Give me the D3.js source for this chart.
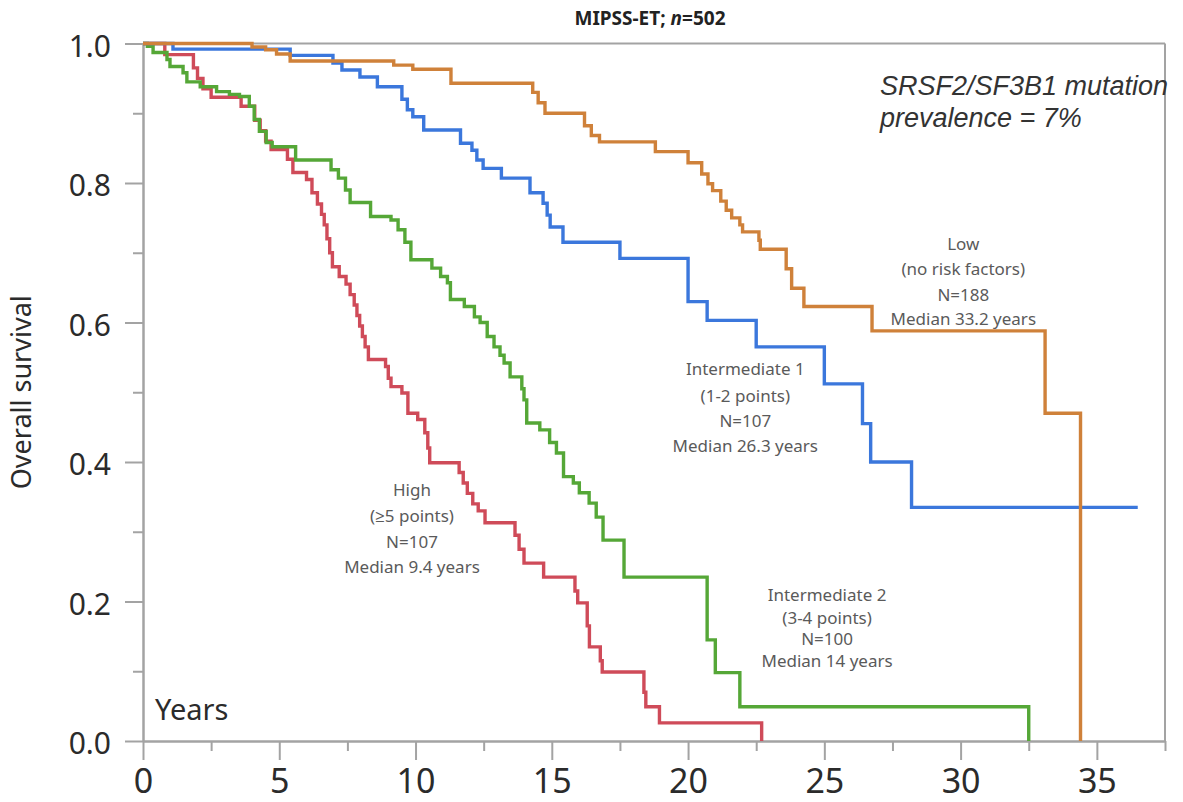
<!DOCTYPE html>
<meta charset="utf-8">
<style>
    body { margin: 0; background: #fff; }
    svg { display: block; font-family: "Noto Sans", "Open Sans", sans-serif; }
    .eixo path, .eixo line { stroke: #a3a3a3; stroke-width: 2px; }
    .eixo text { fill: #2b2b2b; }
    .rotulo { fill: #5a5a5a; font-size: 17px; text-anchor: middle; }
</style>
<script src="https://cdn.jsdelivr.net/npm/d3@7"></script>
<svg width="1183" height="802"></svg>
<script>
    // tempos (anos) e sobrevida após cada passo
    var lowCurve = [[0, 1], [4.0, 0.995], [4.5, 0.991], [4.9, 0.985], [5.4, 0.975], [9.2, 0.969], [9.9, 0.963],
        [11.3, 0.943], [14.3, 0.93], [14.5, 0.915], [14.75, 0.9], [16.2, 0.882], [16.45, 0.868], [16.75, 0.859],
        [18.8, 0.845], [20.0, 0.829], [20.5, 0.813], [20.73, 0.799], [20.9, 0.789], [21.2, 0.774], [21.4, 0.761],
        [21.6, 0.75], [21.9, 0.74], [22.0, 0.73], [22.6, 0.718], [22.65, 0.705], [23.6, 0.677], [23.8, 0.649],
        [24.25, 0.623], [26.75, 0.588], [33.1, 0.47], [34.4, 0]];

    var int1Curve = [[0, 1], [1.1, 0.992], [5.4, 0.983], [6.97, 0.972], [7.3, 0.962], [7.96, 0.952], [8.6, 0.938],
        [9.5, 0.92], [9.7, 0.905], [9.9, 0.895], [10.3, 0.876], [11.65, 0.857], [12.07, 0.847], [12.25, 0.833],
        [12.48, 0.821], [13.15, 0.807], [14.2, 0.786], [14.68, 0.771], [14.83, 0.754], [14.94, 0.737],
        [15.41, 0.715], [17.5, 0.692], [20.0, 0.63], [20.7, 0.603], [22.5, 0.565], [25.0, 0.512], [26.4, 0.455],
        [26.7, 0.4], [28.2, 0.335], [36.5, 0.335]];

    var int2Curve = [[0, 1], [0.16, 0.996], [0.37, 0.987], [0.88, 0.977], [0.99, 0.967], [1.47, 0.958], [1.61, 0.945],
        [2.1, 0.938], [2.7, 0.931], [3.17, 0.927], [3.54, 0.924], [3.9, 0.91], [4.08, 0.891], [4.27, 0.874],
        [4.52, 0.858], [4.74, 0.852], [5.6, 0.833], [6.9, 0.819], [7.17, 0.807], [7.43, 0.79], [7.6, 0.772],
        [8.35, 0.752], [9.1, 0.747], [9.36, 0.733], [9.61, 0.715], [9.83, 0.69], [10.6, 0.678], [10.92, 0.666],
        [11.17, 0.657], [11.28, 0.633], [11.79, 0.623], [12.16, 0.608], [12.37, 0.6], [12.63, 0.58], [12.88, 0.565],
        [13.1, 0.553], [13.25, 0.542], [13.47, 0.522], [13.9, 0.505], [13.98, 0.489], [14.08, 0.456], [14.56, 0.446],
        [14.92, 0.428], [15.17, 0.413], [15.43, 0.379], [15.79, 0.37], [16.01, 0.356], [16.37, 0.341], [16.63, 0.321],
        [16.88, 0.288], [17.65, 0.235], [20.7, 0.145], [21.0, 0.098], [21.9, 0.049], [32.5, 0]];

    var highCurve = [[0, 1], [0.8, 0.984], [1.85, 0.965], [2.0, 0.95], [2.2, 0.935], [2.5, 0.923], [3.6, 0.91],
        [4.1, 0.89], [4.3, 0.875], [4.5, 0.86], [4.7, 0.848], [5.3, 0.834], [5.5, 0.815], [6.0, 0.805], [6.2, 0.786],
        [6.4, 0.77], [6.55, 0.755], [6.65, 0.74], [6.75, 0.72], [6.85, 0.7], [6.95, 0.68], [7.2, 0.666], [7.45, 0.655],
        [7.6, 0.64], [7.75, 0.625], [7.85, 0.61], [7.95, 0.595], [8.05, 0.58], [8.15, 0.565], [8.27, 0.547],
        [8.9, 0.537], [9.0, 0.52], [9.1, 0.508], [9.5, 0.499], [9.72, 0.47], [10.08, 0.461], [10.34, 0.442],
        [10.45, 0.42], [10.52, 0.399], [11.6, 0.385], [11.75, 0.37], [11.9, 0.355], [12.1, 0.34], [12.3, 0.33],
        [12.55, 0.313], [13.65, 0.295], [13.8, 0.275], [13.98, 0.255], [14.7, 0.235], [15.85, 0.215], [15.95, 0.198],
        [16.3, 0.165], [16.38, 0.135], [16.78, 0.115], [16.85, 0.099], [18.38, 0.07], [18.45, 0.049], [18.95, 0.026],
        [22.7, 0]];

    var xTicks = [0, 5, 10, 15, 20, 25, 30, 35];
    var xMinor = [2.5, 7.5, 12.5, 17.5, 22.5, 27.5, 32.5, 37.5];
    var yTicks = [0, 0.2, 0.4, 0.6, 0.8, 1.0];
    var yMinor = [0.1, 0.3, 0.5, 0.7, 0.9];

    var grupos = [
        { nome: "High", curva: highCurve, cor: "#cf4b59", texto: ["High", "(\u22655 points)", "N=107", "Median 9.4 years"], tx: 9.87, ty: [0.36, 0.322, 0.285, 0.249] },
        { nome: "Intermediate 2", curva: int2Curve, cor: "#55a737", texto: ["Intermediate 2", "(3-4 points)", "N=100", "Median 14 years"], tx: 25.1, ty: [0.209, 0.177, 0.146, 0.114] },
        { nome: "Intermediate 1", curva: int1Curve, cor: "#3b77dc", texto: ["Intermediate 1", "(1-2 points)", "N=107", "Median 26.3 years"], tx: 22.1, ty: [0.533, 0.495, 0.459, 0.423] },
        { nome: "Low", curva: lowCurve, cor: "#cf813a", texto: ["Low", "(no risk factors)", "N=188", "Median 33.2 years"], tx: 30.1, ty: [0.712, 0.676, 0.64, 0.605] }
    ];

    var svg = d3.select("svg");

    var x = d3.scaleLinear().domain([0, 37.5]).range([143, 1165]);
    var y = d3.scaleLinear().domain([0, 1]).range([741, 43.5]);

    // moldura
    svg.append("line").attr("x1", x(0)).attr("x2", x(37.5)).attr("y1", y(1)).attr("y2", y(1))
        .style("stroke", "#a3a3a3").style("stroke-width", 2);
    svg.append("line").attr("x1", x(37.5)).attr("x2", x(37.5)).attr("y1", y(1)).attr("y2", y(0))
        .style("stroke", "#a3a3a3").style("stroke-width", 2);

    svg.append("g").attr("class", "eixo")
        .attr("transform", "translate(0," + y(0) + ")")
        .call(d3.axisBottom(x).tickValues(xMinor).tickSize(10).tickFormat("").tickSizeOuter(0));
    svg.append("g").attr("class", "eixo")
        .attr("transform", "translate(0," + y(0) + ")")
        .call(d3.axisBottom(x).tickValues(xTicks).tickSize(19).tickPadding(9).tickSizeOuter(0))
        .attr("font-family", null)
        .selectAll("text").style("font-size", "34px");

    svg.append("g").attr("class", "eixo")
        .attr("transform", "translate(" + x(0) + ",0)")
        .call(d3.axisLeft(y).tickValues(yMinor).tickSize(10).tickFormat("").tickSizeOuter(0));
    svg.append("g").attr("class", "eixo")
        .attr("transform", "translate(" + x(0) + ",0)")
        .call(d3.axisLeft(y).tickValues(yTicks).tickSize(18).tickPadding(14).tickSizeOuter(0).tickFormat(d3.format(".1f")))
        .attr("font-family", null)
        .selectAll("text").style("font-size", "30px").attr("dy", "0.42em");

    var linha = d3.line()
        .x(function (d) { return x(d[0]); })
        .y(function (d) { return y(d[1]); })
        .curve(d3.curveStepAfter);

    svg.append("g").selectAll("path")
        .data(grupos)
        .enter().append("path")
        .attr("d", function (d) { return linha(d.curva); })
        .attr("fill", "none")
        .attr("stroke", function (d) { return d.cor; })
        .attr("stroke-width", 3.4);

    grupos.forEach(function (g) {
        svg.append("text").attr("class", "rotulo")
            .selectAll("tspan")
            .data(g.texto)
            .enter().append("tspan")
            .attr("x", x(g.tx))
            .attr("y", function (d, i) { return y(g.ty[i]) + 6; })
            .text(function (d) { return d; });
    });

    // titulo
    var titulo = svg.append("text").attr("x", 650).attr("y", 25)
        .attr("text-anchor", "middle").style("font-size", "19px").style("font-weight", "bold").style("fill", "#222");
    titulo.append("tspan").text("MIPSS-ET; ");
    titulo.append("tspan").style("font-style", "italic").text("n");
    titulo.append("tspan").text("=502");

    svg.append("text")
        .attr("transform", "translate(31," + y(0.5) + ") rotate(-90)")
        .attr("text-anchor", "middle")
        .style("font-size", "27px").style("fill", "#2b2b2b")
        .text("Overall survival");

    svg.append("text").attr("x", 155).attr("y", 720)
        .style("font-size", "29px").style("fill", "#2b2b2b")
        .text("Years");

    svg.append("g").selectAll("text")
        .data(["SRSF2/SF3B1 mutation", "prevalence = 7%"])
        .enter().append("text")
        .attr("x", 880)
        .attr("y", function (d, i) { return 95 + i * 32; })
        .style("font-family", "'Liberation Sans', Arial, sans-serif")
        .style("font-style", "italic")
        .style("font-size", "27px")
        .style("fill", "#333")
        .text(function (d) { return d; });
</script>
